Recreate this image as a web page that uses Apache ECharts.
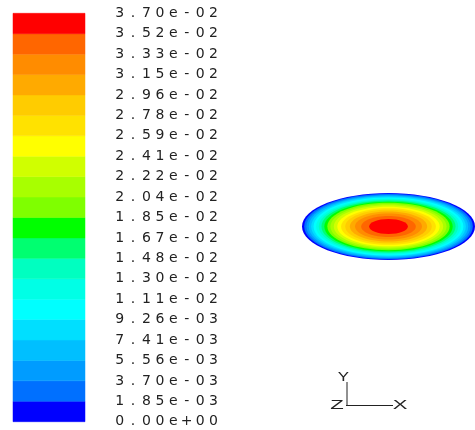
<!DOCTYPE html>
<html><head><meta charset="utf-8">
<script src="https://cdn.jsdelivr.net/npm/echarts@6/dist/echarts.min.js"></script>
<style>html,body{margin:0;padding:0;background:#fff}#c{width:475px;height:430px}</style>
</head><body><div id="c"></div>
<script>
// Contour levels (tick labels of the colour bar), bottom to top
const levelLabels = ['0.00e+00','1.85e-03','3.70e-03','5.56e-03','7.41e-03','9.26e-03','1.11e-02','1.30e-02','1.48e-02','1.67e-02','1.85e-02','2.04e-02','2.22e-02','2.41e-02','2.59e-02','2.78e-02','2.96e-02','3.15e-02','3.33e-02','3.52e-02','3.70e-02'];
// Band index (0 = lowest band) and band colours
const bandIndex = [0,1,2,3,4,5,6,7,8,9,10,11,12,13,14,15,16,17,18,19];
const bandColors = ['#0000ff','#0070ff','#009cff','#00bfff','#00dfff','#00ffff','#00ffe6','#00ffc0','#00ff70','#00ff00','#7fff00','#a8ff00','#d0ff00','#ffff00','#ffe200','#ffcc00','#ffaa00','#ff8c00','#ff6600','#ff0000'];
// Normalised outer radius of each band in the contour
const ringRadius = [1.000,0.975,0.949,0.922,0.894,0.866,0.837,0.806,0.775,0.742,0.707,0.671,0.632,0.592,0.548,0.500,0.447,0.387,0.316,0.224];

const chart = echarts.init(document.getElementById('c'), null, {renderer:'canvas'});
const labelFmt = v => {
  const s = levelLabels[Math.round(v)];
  if (s === undefined) return '';
  return s.split('').map(ch => '{c|' + ch + '}').join('');
};
chart.setOption({
  backgroundColor: '#ffffff',
  animation: false,
  grid: [
    {left: 13, top: 13.3, width: 72, height: 408.4},
    {left: 302, top: 193, width: 174, height: 67}
  ],
  xAxis: [
    {gridIndex: 0, type: 'value', min: 0, max: 1, show: false},
    {gridIndex: 1, type: 'value', min: -1, max: 1, show: false}
  ],
  yAxis: [
    {gridIndex: 0, type: 'value', min: 0, max: 20, interval: 1, position: 'right',
     axisLine: {show: false}, axisTick: {show: false}, splitLine: {show: false},
     axisLabel: {show: true, margin: 28, showMinLabel: true, showMaxLabel: true,
       formatter: labelFmt,
       rich: {c: {width: 13.4, align: 'center', fontSize: 14, fontFamily: 'DejaVu Sans', color: '#222'}}}},
    {gridIndex: 1, type: 'value', min: -1, max: 1, show: false}
  ],
  series: [
    {
      type: 'custom', xAxisIndex: 0, yAxisIndex: 0, silent: true,
      data: bandIndex.map(i => [i]),
      renderItem: (params, api) => {
        const i = api.value(0);
        const p0 = api.coord([0, i + 1]);
        const p1 = api.coord([1, i]);
        return {type: 'rect', shape: {x: p0[0], y: p0[1], width: p1[0] - p0[0], height: p1[1] - p0[1]},
                style: {fill: bandColors[i], stroke: bandColors[i], lineWidth: 0.5}};
      }
    },
    {
      type: 'custom', xAxisIndex: 1, yAxisIndex: 1, silent: true, clip: false,
      data: ringRadius.map((r, k) => [r, k]),
      renderItem: (params, api) => {
        const r = api.value(0), k = api.value(1);
        const c = api.coord([0, 0]);
        const s = api.size([r, r]);
        return {type: 'ellipse', shape: {cx: c[0], cy: c[1], rx: s[0], ry: s[1]},
                style: {fill: bandColors[k]}};
      }
    }
  ],
  graphic: [
    {type: 'line', shape: {x1: 347, y1: 382, x2: 347, y2: 405.5}, style: {stroke: '#222', lineWidth: 1}},
    {type: 'line', shape: {x1: 346, y1: 405.5, x2: 393, y2: 405.5}, style: {stroke: '#222', lineWidth: 1}},
    {type: 'text', x: 343.5, y: 377, scaleX: 1.3, style: {text: 'Y', fontSize: 13, fontFamily: 'Liberation Sans', fill: '#222', textAlign: 'center', textVerticalAlign: 'middle'}},
    {type: 'text', x: 337, y: 405.5, scaleX: 1.7, style: {text: 'Z', fontSize: 13, fontFamily: 'Liberation Sans', fill: '#222', textAlign: 'center', textVerticalAlign: 'middle'}},
    {type: 'text', x: 400, y: 405.5, scaleX: 1.7, style: {text: 'X', fontSize: 13, fontFamily: 'Liberation Sans', fill: '#222', textAlign: 'center', textVerticalAlign: 'middle'}}
  ]
});
</script></body></html>
